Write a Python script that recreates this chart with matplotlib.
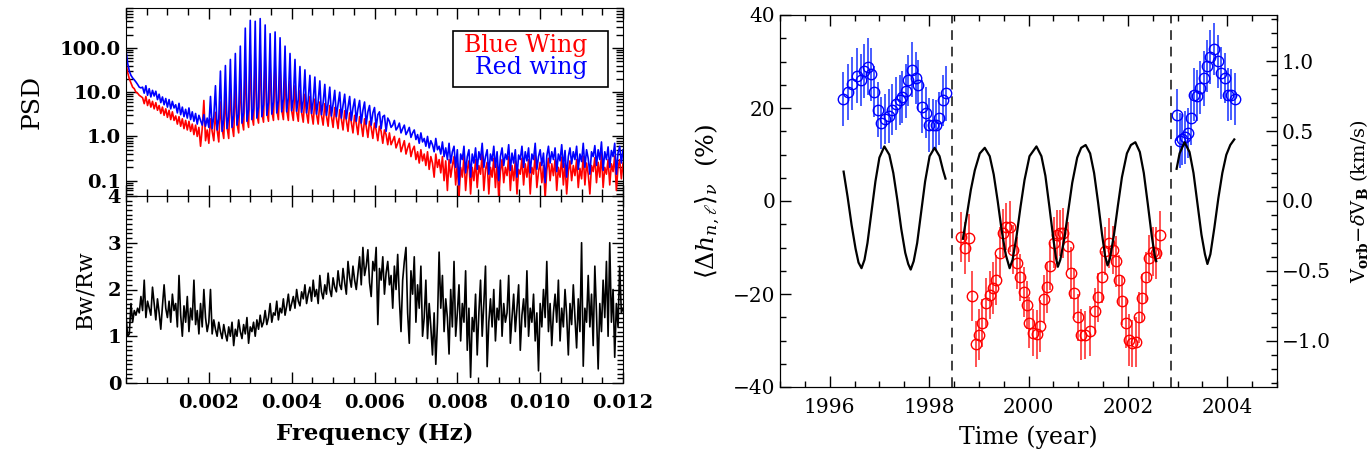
import numpy as np
import matplotlib
matplotlib.use("Agg")
import matplotlib.pyplot as plt
from matplotlib.ticker import MultipleLocator, FixedLocator, LogLocator, NullFormatter, FuncFormatter
from matplotlib.patches import Rectangle

plt.rcParams['font.family'] = 'DejaVu Serif'
plt.rcParams['mathtext.fontset'] = 'dejavuserif'

# ---- power spectra, sampled every 40 microHz from 0 to 0.012 Hz ----
freq_step = 4e-5
# "Red wing" spectrum (drawn in blue)
psd_red_wing = [
    90, 45, 30, 24, 21, 19, 17, 15, 13, 12.5,
    13, 9.5, 14, 8.5, 12, 7.8, 11, 8.2, 10.5, 6.8,
    9, 5.8, 7.8, 5.2, 7.2, 4.6, 6.8, 4.2, 6.2, 4.4,
    5.2, 3.4, 5.6, 3.1, 4.6, 2.8, 4.1, 2.6, 4.4, 2.4,
    3.6, 2.2, 3.3, 1.9, 3.0, 2.3, 1.8, 3.1, 1.7, 2.6,
    1.6, 8, 1.5, 2.8, 14, 1.4, 2.5, 30, 1.3, 2.4,
    40, 1.5, 2.8, 55, 1.6, 3.0, 75, 1.8, 3.2, 110,
    2.0, 3.4, 280, 2.2, 4.0, 420, 2.4, 4.2, 400, 2.6,
    4.6, 460, 2.8, 5.2, 330, 3.0, 5.8, 210, 3.2, 6.0,
    230, 3.4, 6.4, 170, 3.6, 7.0, 110, 3.6, 7.5, 75,
    3.8, 7.0, 55, 3.7, 6.8, 38, 3.5, 6.5, 32, 3.4,
    6.6, 24, 3.3, 6.2, 22, 3.2, 6.0, 18, 3.1, 5.8,
    15, 3.0, 5.6, 13, 2.9, 5.4, 11, 2.8, 5.2, 10,
    2.6, 5.0, 9, 2.5, 4.6, 8, 2.3, 4.4, 7, 2.2,
    4.2, 6.5, 2.0, 3.9, 6, 1.9, 3.6, 5, 1.8, 3.4,
    4.5, 1.6, 3.1, 3.6, 1.5, 2.8, 3.0, 1.3, 2.6, 2.2,
    1.6, 1.8, 2.3, 1.4, 1.6, 2.0, 1.2, 1.5, 1.8, 1.1,
    1.3, 1.6, 0.95, 1.2, 1.4, 0.85, 1.1, 0.7, 1.2, 0.75,
    0.9, 0.6, 1.0, 0.55, 0.8, 0.65, 0.45, 0.9, 0.5, 0.6,
    0.4, 0.75, 0.35, 0.55, 0.3, 0.7, 0.25, 0.45, 0.6, 0.2,
    0.5, 0.08, 0.4, 0.3, 0.6, 0.15, 0.35, 0.5, 0.12, 0.4,
    0.25, 0.55, 0.18, 0.45, 0.3, 0.7, 0.2, 0.35, 0.5, 0.14,
    0.4, 0.28, 0.6, 0.2, 0.45, 0.1, 0.35, 0.55, 0.22, 0.4,
    0.3, 0.65, 0.17, 0.42, 0.25, 0.5, 0.12, 0.38, 0.3, 0.6,
    0.2, 0.45, 0.28, 0.55, 0.15, 0.4, 0.3, 0.7, 0.18, 0.35,
    0.5, 0.22, 0.42, 0.09, 0.36, 0.6, 0.25, 0.45, 0.3, 0.55,
    0.16, 0.4, 0.28, 0.65, 0.2, 0.48, 0.12, 0.35, 0.55, 0.24,
    0.45, 0.3, 0.6, 0.18, 0.4, 0.27, 0.7, 0.2, 0.5, 0.32,
    0.14, 0.45, 0.35, 0.62, 0.22, 0.5, 0.3, 0.75, 0.17, 0.45,
    0.3, 0.58, 0.2, 0.48, 0.35, 0.7, 0.14, 0.42, 0.6, 0.25,
    0.5,
]
# "Blue Wing" spectrum (drawn in red)
psd_blue_wing = [
    45, 28, 20, 16, 13, 12, 10, 9.5, 8.5, 8,
    7.5, 5.5, 8, 5, 6.8, 4.6, 6.2, 4.2, 5.8, 3.9,
    5, 3.3, 4.6, 3.0, 4.2, 2.7, 3.9, 2.4, 3.6, 2.3,
    2.9, 1.9, 2.8, 1.7, 2.5, 1.5, 2.3, 1.4, 2.2, 1.3,
    1.9, 1.1, 1.8, 1.0, 1.6, 0.6, 1.5, 6.5, 0.8, 1.4,
    0.7, 2.5, 1.3, 0.8, 3.5, 1.4, 0.75, 6, 1.5, 0.9,
    9, 1.6, 0.9, 12, 1.8, 1.0, 15, 2.0, 1.2, 20,
    2.3, 1.4, 45, 2.6, 1.6, 70, 2.9, 1.8, 60, 3.1,
    2.0, 80, 3.4, 2.1, 60, 3.6, 2.2, 40, 3.8, 2.3,
    45, 3.9, 2.4, 35, 4.0, 2.4, 25, 3.9, 2.3, 18,
    3.8, 2.3, 14, 3.6, 2.2, 11, 3.5, 2.1, 9, 3.4,
    2.0, 8, 3.3, 1.9, 7, 3.2, 1.9, 6, 3.0, 1.8,
    5.5, 2.9, 1.7, 5, 2.8, 1.6, 4.5, 2.6, 1.5, 4,
    2.5, 1.4, 3.8, 2.3, 1.3, 3.4, 2.1, 1.2, 3.0, 2.0,
    1.1, 2.8, 1.9, 1.0, 2.5, 1.7, 0.95, 2.2, 1.6, 0.9,
    2.0, 1.4, 0.8, 1.7, 1.3, 0.7, 1.4, 1.1, 0.65, 1.2,
    0.65, 0.8, 1.0, 0.55, 0.7, 0.9, 0.45, 0.6, 0.8, 0.4,
    0.55, 0.7, 0.35, 0.5, 0.6, 0.3, 0.45, 0.25, 0.5, 0.28,
    0.4, 0.22, 0.45, 0.18, 0.35, 0.25, 0.12, 0.4, 0.2, 0.3,
    0.15, 0.35, 0.1, 0.28, 0.06, 0.3, 0.12, 0.22, 0.35, 0.08,
    0.25, 0.04, 0.2, 0.12, 0.35, 0.06, 0.18, 0.28, 0.05, 0.2,
    0.1, 0.3, 0.07, 0.22, 0.14, 0.4, 0.06, 0.18, 0.26, 0.05,
    0.2, 0.12, 0.32, 0.07, 0.24, 0.04, 0.16, 0.3, 0.09, 0.2,
    0.13, 0.35, 0.06, 0.22, 0.1, 0.28, 0.05, 0.18, 0.14, 0.32,
    0.08, 0.24, 0.12, 0.3, 0.05, 0.2, 0.14, 0.38, 0.07, 0.16,
    0.26, 0.09, 0.22, 0.04, 0.17, 0.32, 0.1, 0.24, 0.13, 0.3,
    0.06, 0.2, 0.12, 0.34, 0.08, 0.25, 0.05, 0.16, 0.28, 0.1,
    0.22, 0.13, 0.3, 0.07, 0.19, 0.11, 0.36, 0.08, 0.25, 0.14,
    0.05, 0.22, 0.16, 0.33, 0.09, 0.26, 0.12, 0.4, 0.07, 0.2,
    0.14, 0.3, 0.08, 0.24, 0.16, 0.36, 0.06, 0.2, 0.3, 0.11,
    0.25,
]
# Bw/Rw ratio on the same frequency grid
ratio_bw_rw = [
    1.45, 1.0, 1.05, 1.7, 1.3, 1.55, 1.45, 1.6, 1.5, 1.85,
    1.55, 2.2, 1.4, 1.75, 1.6, 1.45, 2.05, 1.7, 1.35, 1.8,
    1.5, 1.15, 1.65, 2.1, 1.6, 1.4, 1.75, 1.3, 1.9, 1.55,
    1.7, 1.2, 2.3, 1.45, 1.0, 1.65, 1.3, 1.85, 1.1, 1.6,
    1.35, 2.2, 1.25, 1.55, 1.05, 1.7, 1.2, 2.0, 1.4, 1.1,
    1.3, 2.0, 1.05, 1.35, 1.15, 1.0, 1.3, 1.1, 0.95, 1.25,
    1.05, 0.9, 1.2, 1.0, 1.3, 0.8, 1.15, 1.0, 1.35, 1.1,
    0.95, 1.25, 1.05, 1.4, 0.85, 1.2, 1.1, 1.3, 1.0, 1.35,
    1.15, 1.45, 1.2, 1.3, 1.55, 1.25, 1.4, 1.7, 1.3, 1.5,
    1.45, 1.75, 1.35, 1.6, 1.5, 1.8, 1.45, 1.65, 1.9, 1.55,
    1.7, 1.85, 1.6, 2.0, 1.75, 1.65, 1.95, 1.8, 2.1, 1.7,
    1.9, 2.05, 1.75, 2.2, 1.85, 2.0, 1.7, 2.3, 1.95, 1.8,
    2.1, 1.9, 2.35, 2.0, 1.85, 2.25, 2.05, 1.95, 2.4, 2.1,
    2.0, 2.45, 2.15, 1.9, 2.6, 2.25, 2.05, 2.5, 2.2, 2.0,
    2.35, 2.7, 2.1, 2.9, 2.3, 2.5, 2.85, 2.15, 1.85, 2.6,
    2.4, 2.9, 1.25, 2.45, 2.2, 2.7, 1.9, 2.35, 2.6, 2.1,
    2.3, 1.6, 2.5, 2.0, 2.75, 1.8, 1.1, 2.2, 2.6, 2.9,
    1.5, 0.85, 2.4, 1.9, 2.7, 1.3, 2.1, 1.6, 2.5, 1.0,
    1.4, 2.2, 0.95, 1.7, 1.2, 0.6, 1.5, 0.4, 1.3, 2.8,
    1.6, 2.3, 1.1, 1.8, 1.4, 0.62, 2.0, 1.2, 2.6, 1.0,
    1.5, 2.1, 0.9, 1.7, 1.3, 2.4, 0.7, 1.6, 0.12, 1.4,
    1.1, 1.9, 0.6, 1.5, 2.2, 1.0, 1.7, 2.5, 0.35, 1.3,
    1.8, 1.2, 2.0, 0.9, 1.6, 1.35, 2.2, 1.0, 1.7, 1.3,
    1.5, 2.3, 0.85, 1.4, 1.9, 1.1, 1.6, 2.1, 0.7, 1.45,
    1.8, 1.2, 2.4, 1.0, 1.6, 1.3, 1.9, 0.9, 1.5, 0.26,
    1.7, 1.2, 2.0, 1.4, 2.6, 1.1, 1.7, 0.8, 1.5, 1.9,
    1.3, 2.2, 0.9, 1.6, 1.2, 2.0, 1.45, 0.6, 1.7, 1.25,
    2.1, 1.4, 0.75, 1.8, 1.1, 3.0, 0.36, 1.6, 1.3, 2.3,
    1.2, 1.9, 0.8, 2.5, 1.5, 0.3, 1.7, 1.1, 2.2, 1.4,
    2.6, 1.0, 3.0, 1.3, 2.0, 0.55, 1.7, 1.2, 2.5, 1.5,
    1.6,
]

# ---- frequency shifts (%) ----
blue_year = [1996.27, 1996.36, 1996.45, 1996.54, 1996.62, 1996.69, 1996.77, 1996.84,
             1996.90, 1996.97, 1997.03, 1997.12, 1997.19, 1997.26, 1997.34, 1997.41,
             1997.46, 1997.53, 1997.57, 1997.66, 1997.73, 1997.78, 1997.85, 1997.93,
             1998.00, 1998.08, 1998.13, 1998.20, 1998.27, 1998.35,
             2002.99, 2003.04, 2003.09, 2003.14, 2003.20, 2003.26, 2003.32, 2003.40,
             2003.46, 2003.53, 2003.60, 2003.66, 2003.74, 2003.81, 2003.87, 2003.95,
             2004.01, 2004.08, 2004.15]
blue_dh = [21.9, 23.5, 25.2, 26.9, 26.0, 28.0, 28.9, 27.3, 23.5, 19.6, 16.8, 17.6,
           18.3, 19.6, 20.9, 21.7, 22.4, 23.7, 26.0, 28.2, 26.4, 24.9, 20.3, 19.0,
           16.3, 16.3, 16.3, 17.8, 21.7, 23.2,
           18.5, 13.0, 13.3, 13.7, 14.6, 17.8, 22.9, 22.6, 24.4, 26.4, 29.1, 30.9,
           32.7, 30.1, 27.5, 26.4, 22.9, 22.9, 21.9]
blue_err = [5.8, 6.0, 5.7, 5.9, 5.6, 5.8, 6.1, 5.7, 5.5, 5.9, 5.6, 5.4, 5.8, 5.5,
            5.7, 5.3, 5.6, 5.8, 5.5, 5.9, 5.6, 5.4, 5.7, 5.5, 5.8, 5.6, 5.4, 5.7,
            5.5, 5.9,
            5.6, 5.9, 5.5, 5.7, 5.4, 5.8, 5.6, 5.5, 5.7, 5.9, 5.6, 5.8, 5.5, 5.7,
            5.6, 5.4, 5.8, 5.5, 5.6]

red_year = [1998.65, 1998.73, 1998.81, 1998.87, 1998.95, 1999.00, 1999.07, 1999.15,
            1999.22, 1999.28, 1999.35, 1999.42, 1999.48, 1999.55, 1999.63, 1999.68,
            1999.77, 1999.82, 1999.90, 1999.97, 2000.02, 2000.09, 2000.17, 2000.24,
            2000.31, 2000.37, 2000.44, 2000.51, 2000.57, 2000.64, 2000.70, 2000.79,
            2000.86, 2000.92, 2000.99, 2001.06, 2001.14, 2001.24, 2001.33, 2001.40,
            2001.47, 2001.54, 2001.61, 2001.70, 2001.76, 2001.83, 2001.88, 2001.96,
            2002.02, 2002.08, 2002.16, 2002.23, 2002.28, 2002.36, 2002.43, 2002.50,
            2002.56, 2002.65]
red_dh = [-7.7, -10.2, -8.0, -20.4, -30.8, -28.8, -26.2, -21.9, -20.2, -18.8, -17.0,
          -11.1, -6.9, -5.5, -5.5, -10.5, -13.4, -16.4, -19.5, -22.4, -26.2, -28.3,
          -28.7, -26.8, -21.1, -18.6, -14.0, -9.0, -7.3, -6.9, -6.9, -9.7, -15.4,
          -19.8, -25.0, -28.8, -28.8, -27.9, -23.7, -20.7, -16.4, -10.7, -9.1, -10.5,
          -13.0, -17.0, -21.4, -26.3, -29.9, -30.6, -30.3, -25.0, -20.9, -16.4, -12.3,
          -10.9, -11.1, -7.3]
red_err = [5.4, 5.6, 5.2, 5.3, 5.0, 5.5, 5.2, 5.4, 5.1, 5.6, 5.3, 5.5, 5.2, 5.0,
           5.4, 5.3, 5.6, 5.1, 5.4, 5.2, 5.5, 5.0, 5.3, 5.6, 5.2, 5.4, 5.1, 5.5,
           5.3, 5.0, 5.4, 5.2, 5.6, 5.3, 5.1, 5.5, 5.2, 5.4, 5.0, 5.3, 5.6, 5.2,
           5.4, 5.1, 5.5, 5.3, 5.2, 5.4, 5.6, 5.1, 5.3, 5.5, 5.2, 5.4, 5.0, 5.3,
           5.6, 5.2]

# ---- V_orb - dV_B (km/s), three observing periods ----
vel_year_1 = [1996.28, 1996.36, 1996.44, 1996.52, 1996.58, 1996.64, 1996.70, 1996.76,
              1996.84, 1996.92, 1997.00, 1997.10, 1997.20, 1997.28, 1997.36, 1997.44,
              1997.52, 1997.58, 1997.63, 1997.69, 1997.76, 1997.84, 1997.92, 1998.01,
              1998.11, 1998.21, 1998.28, 1998.33]
vel_1 = [0.21, 0.03, -0.17, -0.34, -0.44, -0.48, -0.42, -0.30, -0.08, 0.14, 0.31,
         0.39, 0.33, 0.20, 0.01, -0.20, -0.37, -0.45, -0.49, -0.43, -0.30, -0.08,
         0.14, 0.32, 0.38, 0.32, 0.22, 0.16]
vel_year_2 = [1998.68, 1998.76, 1998.84, 1998.92, 1999.02, 1999.12, 1999.22, 1999.30,
              1999.38, 1999.46, 1999.54, 1999.62, 1999.68, 1999.76, 1999.84, 1999.92,
              2000.02, 2000.16, 2000.26, 2000.34, 2000.42, 2000.50, 2000.55, 2000.59,
              2000.64, 2000.72, 2000.80, 2000.88, 2000.98, 2001.06, 2001.15, 2001.24,
              2001.32, 2001.40, 2001.48, 2001.54, 2001.59, 2001.64, 2001.72, 2001.80,
              2001.88, 2001.98, 2002.06, 2002.15, 2002.24, 2002.32, 2002.40, 2002.48,
              2002.54, 2002.57]
vel_2 = [-0.27, -0.10, 0.08, 0.22, 0.34, 0.38, 0.32, 0.19, 0.00, -0.21, -0.38, -0.48,
         -0.42, -0.25, -0.04, 0.15, 0.32, 0.39, 0.32, 0.18, -0.04, -0.27, -0.40, -0.47,
         -0.42, -0.27, -0.07, 0.13, 0.31, 0.38, 0.40, 0.34, 0.20, -0.01, -0.24, -0.39,
         -0.46, -0.41, -0.24, -0.03, 0.17, 0.34, 0.40, 0.42, 0.35, 0.20, -0.02, -0.25,
         -0.39, -0.43]
vel_year_3 = [2002.98, 2003.04, 2003.14, 2003.24, 2003.32, 2003.40, 2003.48, 2003.55,
              2003.60, 2003.66, 2003.74, 2003.82, 2003.90, 2003.98, 2004.06, 2004.14]
vel_3 = [0.23, 0.34, 0.42, 0.35, 0.20, -0.02, -0.24, -0.38, -0.45, -0.38, -0.19,
         0.02, 0.20, 0.33, 0.40, 0.44]

gap_years = [1998.47, 2002.87]

W, H = 1367, 458
fig = plt.figure(figsize=(W / 100, H / 100), dpi=100)


def rect(x0, y0, x1, y1):
    return [x0 / W, 1 - y1 / H, (x1 - x0) / W, (y1 - y0) / H]


def style_ticks(ax, major=7, minor=4):
    ax.tick_params(which='both', direction='in', top=True, right=True, width=1)
    ax.tick_params(which='major', length=major)
    ax.tick_params(which='minor', length=minor)


freq = np.arange(len(psd_red_wing)) * freq_step

# top: power spectra
ax_psd = fig.add_axes(rect(126, 8, 623, 196))
ax_psd.plot(freq, psd_blue_wing, color='red', lw=1.2)
ax_psd.plot(freq, psd_red_wing, color='blue', lw=1.2)
ax_psd.set_yscale('log')
ax_psd.set_xlim(0, 0.012)
ax_psd.set_ylim(0.045, 800)
ax_psd.yaxis.set_major_locator(FixedLocator([0.1, 1, 10, 100]))
ax_psd.yaxis.set_minor_locator(LogLocator(base=10, subs=np.arange(2, 10)))
ax_psd.yaxis.set_minor_formatter(NullFormatter())
ax_psd.yaxis.set_major_formatter(FuncFormatter(lambda v, p: '%.1f' % v))
ax_psd.xaxis.set_major_locator(MultipleLocator(0.002))
ax_psd.xaxis.set_minor_locator(MultipleLocator(0.0005))
ax_psd.set_xticklabels([])
style_ticks(ax_psd, 8, 5)
ax_psd.tick_params(axis='y', labelsize=14)
for t in ax_psd.get_yticklabels():
    t.set_fontweight('bold')
ax_psd.set_ylabel('PSD', fontsize=18, labelpad=12)

ax_psd.add_patch(Rectangle((0.658, 0.58), 0.312, 0.298, transform=ax_psd.transAxes,
                           fill=False, edgecolor='black', lw=1.2, zorder=5))
ax_psd.text(0.9276, 0.803, 'Blue Wing', color='red', fontsize=17, ha='right',
            va='center', transform=ax_psd.transAxes, zorder=6)
ax_psd.text(0.9276, 0.681, 'Red wing', color='blue', fontsize=17, ha='right',
            va='center', transform=ax_psd.transAxes, zorder=6)

# bottom: wing ratio
ax_rat = fig.add_axes(rect(126, 196, 623, 383))
ax_rat.plot(freq, ratio_bw_rw, color='black', lw=1.2)
ax_rat.set_xlim(0, 0.012)
ax_rat.set_ylim(0, 4)
ax_rat.xaxis.set_major_locator(FixedLocator([0.002, 0.004, 0.006, 0.008, 0.010, 0.012]))
ax_rat.xaxis.set_minor_locator(MultipleLocator(0.0005))
ax_rat.xaxis.set_major_formatter(FuncFormatter(lambda v, p: '%.3f' % v))
ax_rat.yaxis.set_major_locator(MultipleLocator(1))
ax_rat.yaxis.set_minor_locator(MultipleLocator(0.1))
style_ticks(ax_rat, 8, 4)
ax_rat.tick_params(labelsize=14)
ax_rat.tick_params(axis='x', pad=8)
for t in ax_rat.get_xticklabels() + ax_rat.get_yticklabels():
    t.set_fontweight('bold')
ax_rat.set_xlabel('Frequency (Hz)', fontsize=16.5, fontweight='bold', labelpad=8)
ax_rat.set_ylabel('Bw/Rw', fontsize=16, labelpad=8)

# right: frequency shifts and velocity
ax_dh = fig.add_axes(rect(780, 15, 1277, 387))
ax_dh.errorbar(blue_year, blue_dh, yerr=blue_err, fmt='o', ms=7.5, mfc='none',
               mec='blue', mew=1.0, ecolor=(0.15, 0.25, 1.0, 0.85), elinewidth=1.4,
               capsize=0)
ax_dh.errorbar(red_year, red_dh, yerr=red_err, fmt='o', ms=7.5, mfc='none',
               mec='red', mew=1.0, ecolor=(1.0, 0.2, 0.2, 0.85), elinewidth=1.4,
               capsize=0)
for yr in gap_years:
    ax_dh.axvline(yr, color='0.25', lw=1.4, ls=(0, (5, 3.5)))
ax_dh.set_xlim(1995, 2005)
ax_dh.set_ylim(-40, 40)
ax_dh.xaxis.set_major_locator(MultipleLocator(2))
ax_dh.xaxis.set_minor_locator(MultipleLocator(0.5))
ax_dh.yaxis.set_major_locator(MultipleLocator(20))
ax_dh.yaxis.set_minor_locator(MultipleLocator(5))
ax_dh.tick_params(which='both', direction='in', top=True, right=False, width=1)
ax_dh.tick_params(which='major', length=8, labelsize=14.5)
ax_dh.tick_params(which='minor', length=4)
ax_dh.tick_params(axis='x', pad=8)
ax_dh.set_xlabel('Time (year)', fontsize=17, labelpad=6)
ax_dh.set_ylabel(r'$\langle \Delta h_{n,\ell} \rangle_{\nu}$  (%)', fontsize=18,
                 labelpad=8)

ax_v = ax_dh.twinx()
for yrs, v in [(vel_year_1, vel_1), (vel_year_2, vel_2), (vel_year_3, vel_3)]:
    ax_v.plot(yrs, v, color='black', lw=1.6)
ax_v.set_ylim(-1.329, 1.329)
ax_v.yaxis.set_major_locator(MultipleLocator(0.5))
ax_v.yaxis.set_minor_locator(MultipleLocator(0.1))
ax_v.yaxis.set_major_formatter(FuncFormatter(lambda v, p: ('%.1f' % v).replace('-', '\u2212')))
ax_v.tick_params(which='both', direction='in', width=1)
ax_v.tick_params(which='major', length=8, labelsize=14.5)
ax_v.tick_params(which='minor', length=4)
ax_v.set_ylabel(r'V$_{\mathbf{orb}}$$-\delta$V$_{\mathbf{B}}$ (km/s)', fontsize=14,
                labelpad=12)

fig.savefig('out.png', dpi=100)
